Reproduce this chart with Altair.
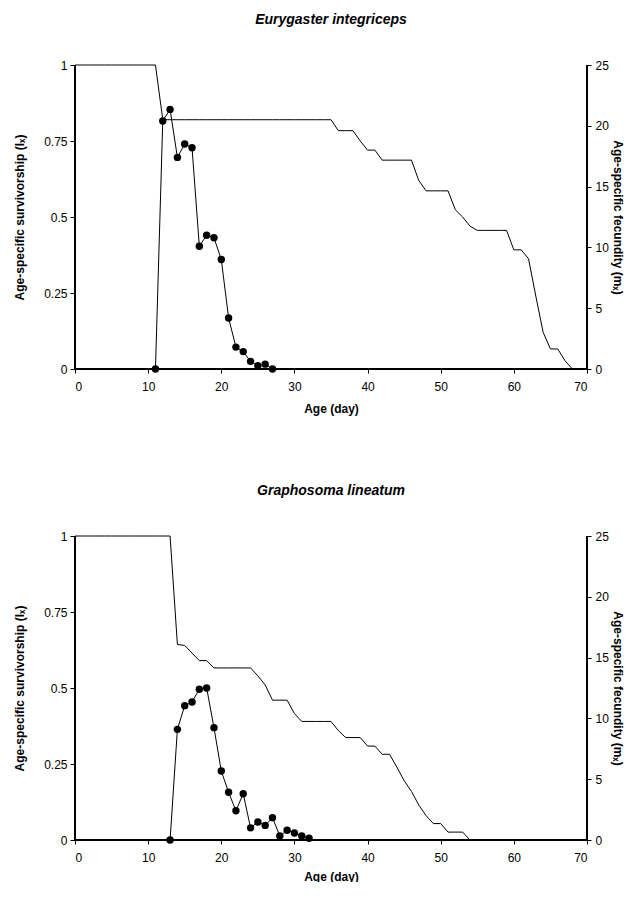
import altair as alt
import pandas as pd

# ---------------- Eurygaster integriceps ----------------
eury_lx_days = list(range(0, 69))
eury_lx = [1, 1, 1, 1, 1, 1, 1, 1, 1, 1, 1, 1,
           0.82, 0.82, 0.82, 0.82, 0.82, 0.82, 0.82, 0.82, 0.82, 0.82, 0.82, 0.82,
           0.82, 0.82, 0.82, 0.82, 0.82, 0.82, 0.82, 0.82, 0.82, 0.82, 0.82, 0.82,
           0.784, 0.784, 0.784, 0.75, 0.72, 0.72,
           0.687, 0.687, 0.687, 0.687, 0.687, 0.62,
           0.586, 0.586, 0.586, 0.586, 0.524, 0.50, 0.47,
           0.456, 0.456, 0.456, 0.456, 0.456, 0.392, 0.392, 0.363,
           0.24, 0.121, 0.066, 0.066, 0.027, 0]
eury_mx_days = [11, 12, 13, 14, 15, 16, 17, 18, 19, 20, 21, 22, 23, 24, 25, 26, 27]
eury_mx = [0, 20.4, 21.35, 17.4, 18.5, 18.2, 10.1, 11.0, 10.8, 9.0, 4.2, 1.8, 1.43, 0.63, 0.27, 0.4, 0]

# ---------------- Graphosoma lineatum ----------------
grap_lx_days = list(range(0, 55))
grap_lx = [1, 1, 1, 1, 1, 1, 1, 1, 1, 1, 1, 1, 1, 1,
           0.643, 0.64, 0.615, 0.59, 0.59,
           0.566, 0.566, 0.566, 0.566, 0.566, 0.566,
           0.54, 0.51, 0.46, 0.46, 0.46, 0.416,
           0.39, 0.39, 0.39, 0.39, 0.39, 0.36,
           0.337, 0.337, 0.337, 0.309, 0.309, 0.282, 0.282,
           0.24, 0.195, 0.16, 0.115, 0.08, 0.054, 0.054,
           0.026, 0.026, 0.026, 0]
grap_mx_days = [13, 14, 15, 16, 17, 18, 19, 20, 21, 22, 23, 24, 25, 26, 27, 28, 29, 30, 31, 32]
grap_mx = [0, 9.1, 11.05, 11.35, 12.4, 12.5, 9.24, 5.67, 3.92, 2.4, 3.8, 1.0, 1.48, 1.2, 1.84, 0.33, 0.8, 0.58, 0.33, 0.14]

x_ticks = [0, 10, 20, 30, 40, 50, 60, 70]
lx_ticks = [0, 0.25, 0.5, 0.75, 1]
mx_ticks = [0, 5, 10, 15, 20, 25]

# axis frame (left axis, baseline, right axis) in data units: day / lx
frame_day = [0, 0, 70, 70]
frame_lx = [1, 0, 0, 1]
frame_order = [0, 1, 2, 3]

FONT = "Liberation Sans"


def panel(title, lx_days, lx_vals, mx_days, mx_vals, x_title_pad):
    lx_df = pd.DataFrame({"day": lx_days, "lx": lx_vals})
    mx_df = pd.DataFrame({"day": mx_days, "mx": mx_vals})
    frame_df = pd.DataFrame({"day": frame_day, "lx": frame_lx, "o": frame_order})
    x_scale = alt.Scale(domain=[0, 70], nice=False, zero=False)
    lx_scale = alt.Scale(domain=[0, 1], nice=False)
    x_axis = alt.Axis(values=x_ticks, title="Age (day)", tickSize=4, domain=False,
                      labelPadding=8, titlePadding=x_title_pad)
    lx_line = alt.Chart(lx_df).mark_line(color="black", strokeWidth=1).encode(
        x=alt.X("day:Q", scale=x_scale, axis=x_axis),
        y=alt.Y("lx:Q", scale=lx_scale,
                axis=alt.Axis(values=lx_ticks, labelExpr="datum.value + ''",
                              title="Age-specific survivorship (lₓ)", orient="left",
                              domain=False, tickSize=5, labelPadding=3, titlePadding=17)),
    )
    frame = alt.Chart(frame_df).mark_line(color="black", strokeWidth=2).encode(
        x=alt.X("day:Q", scale=x_scale, axis=x_axis),
        y=alt.Y("lx:Q", scale=lx_scale, axis=None),
        order="o:Q",
    )
    mx_line = alt.Chart(mx_df).mark_line(
        color="black", strokeWidth=1,
        point=alt.OverlayMarkDef(filled=True, color="black", size=55, opacity=1),
    ).encode(
        x=alt.X("day:Q", scale=x_scale, axis=x_axis),
        y=alt.Y("mx:Q", scale=alt.Scale(domain=[0, 25], nice=False),
                axis=alt.Axis(values=mx_ticks, title="Age-specific fecundity (mₓ)",
                              orient="right", domain=False, tickSize=4, labelPadding=4,
                              titlePadding=2)),
    )
    return alt.layer(lx_line, frame, mx_line).resolve_scale(
        y="independent"
    ).properties(
        width=512, height=304,
        title=alt.TitleParams(title, fontStyle="italic", fontWeight="bold",
                              fontSize=14, font=FONT, offset=32, color="black"),
    )


top = panel("Eurygaster integriceps", eury_lx_days, eury_lx, eury_mx_days, eury_mx, 11)
bottom = panel("Graphosoma lineatum", grap_lx_days, grap_lx, grap_mx_days, grap_mx, 8)

chart = alt.vconcat(top, bottom, spacing=70).properties(
    padding={"left": 5, "top": 5, "right": 0, "bottom": 0}
).configure_view(stroke=None).configure_axis(
    grid=False, labelFont=FONT, labelFontSize=12, labelColor="black",
    titleFont=FONT, titleFontSize=12, titleFontWeight="bold", titleColor="black",
    tickColor="black", tickWidth=1,
)

chart.save("out.html", embed_options={"renderer": "svg", "actions": False})
